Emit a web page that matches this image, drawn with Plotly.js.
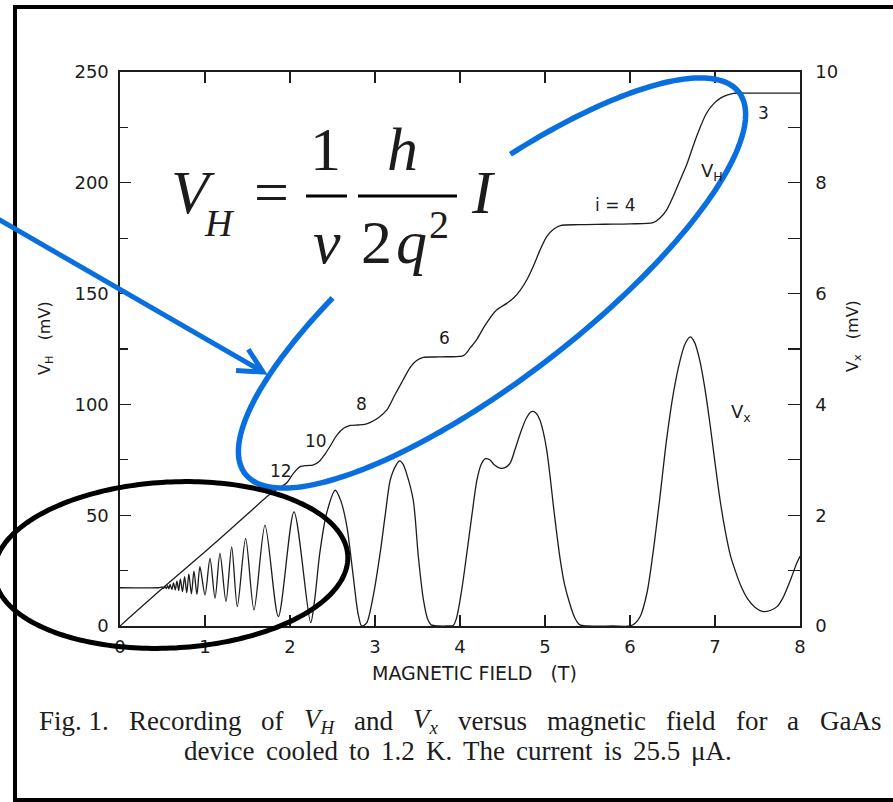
<!DOCTYPE html>
<html>
<head>
<meta charset="utf-8">
<script src="https://cdn.plot.ly/plotly-3.0.1.min.js"></script>
<style>html,body{margin:0;padding:0;background:#fff;}</style>
</head>
<body>
<div id="chart" style="width:893px;height:802px;"></div>
<script>
// Hall voltage V_H (mV) versus magnetic field (T)
const fieldHall = [0, 0.5, 1.0, 1.5, 1.73, 1.80, 1.88, 1.96, 2.04, 2.12, 2.20, 2.27, 2.35, 2.41, 2.47,
  2.55, 2.63, 2.71, 2.80, 2.88, 2.94, 3.04, 3.14, 3.23, 3.33, 3.42, 3.49, 3.57, 3.70, 3.85,
  4.04, 4.12, 4.20, 4.30, 4.43, 4.55, 4.63, 4.71, 4.79, 4.86, 4.94, 5.02, 5.10, 5.18, 5.40,
  5.70, 6.00, 6.27, 6.35, 6.43, 6.51, 6.59, 6.67, 6.74, 6.82, 6.90, 6.98, 7.06, 7.14, 7.22,
  7.40, 7.70, 8.00];
const hallVoltage = [0, 17, 33.5, 50.5, 58.4, 60.5, 62.5, 64.5, 68.9, 71.9, 72.4, 72.6, 74.5, 77.5, 81,
  86, 89.2, 90.5, 90.7, 91, 91.8, 94, 97.5, 104, 111, 117, 119.8, 121.2, 121.4, 121.5,
  122, 125.5, 129.5, 136, 142.6, 145.6, 148, 151.6, 156.5, 162.1, 169.5, 175.7, 179, 180.7, 181.1,
  181.3, 181.5, 182, 184, 187.7, 194, 201.3, 208.5, 216.3, 224.5, 231.4, 235.5, 238.1, 239.6, 240.4,
  240.5, 240.5, 240.5];

// Longitudinal voltage V_x (mV) versus magnetic field (T)
const fieldLong = [0, 0.45, 0.50, 0.515, 0.53, 0.545, 0.56, 0.575, 0.59, 0.61, 0.63, 0.65, 0.67, 0.69,
  0.71, 0.735, 0.76, 0.785, 0.81, 0.84, 0.87, 0.905, 0.94, 1.00, 1.059, 1.118, 1.176, 1.247,
  1.314, 1.38, 1.478, 1.576, 1.706, 1.863, 2.047, 2.243, 2.29, 2.35, 2.43, 2.533, 2.60, 2.67,
  2.74, 2.80, 2.843, 2.90, 2.98, 3.06, 3.12, 3.18, 3.25, 3.29, 3.33, 3.37, 3.45, 3.51, 3.57,
  3.62, 3.66, 3.75, 3.85, 3.92, 3.96, 4.02, 4.08, 4.14, 4.20, 4.25, 4.30, 4.35, 4.41, 4.47,
  4.53, 4.59, 4.65, 4.71, 4.78, 4.84, 4.89, 4.94, 4.98, 5.02, 5.06, 5.10, 5.14, 5.18, 5.23,
  5.29, 5.35, 5.41, 5.50, 5.80, 6.00, 6.06, 6.12, 6.20, 6.27, 6.35, 6.43, 6.51, 6.59, 6.65,
  6.71, 6.76, 6.82, 6.88, 6.94, 7.00, 7.06, 7.12, 7.18, 7.24, 7.30, 7.38, 7.47, 7.57,
  7.65, 7.73, 7.79, 7.84, 7.90, 7.96, 8.00];
const longVoltage = [0.69, 0.69, 0.70, 0.68, 0.715, 0.675, 0.73, 0.67, 0.75, 0.66, 0.78, 0.65, 0.81, 0.64,
  0.85, 0.62, 0.89, 0.60, 0.94, 0.58, 0.99, 0.57, 1.07, 0.56, 1.22, 0.50, 1.31, 0.44,
  1.43, 0.35, 1.58, 0.29, 1.82, 0.17, 2.06, 0.06, 0.47, 1.31, 2.03, 2.45, 2.25, 1.79,
  0.95, 0.23, 0.0, 0.05, 0.55, 1.31, 2.0, 2.64, 2.91, 2.98, 2.92, 2.76, 2.27, 1.25, 0.47,
  0.12, 0.02, 0, 0, 0.01, 0.15, 0.65, 1.31, 2.0, 2.64, 2.92, 3.02, 3.0, 2.9, 2.85,
  2.86, 2.94, 3.2, 3.48, 3.75, 3.87, 3.85, 3.72, 3.5, 3.18, 2.7, 2.15, 1.65, 1.19, 0.75,
  0.41, 0.15, 0.02, 0, 0, 0, 0.05, 0.17, 0.6, 1.31, 2.3, 3.36, 4.2, 4.80, 5.1,
  5.22, 5.12, 4.80, 4.3, 3.66, 2.95, 2.27, 1.72, 1.28, 0.99, 0.74, 0.50, 0.34, 0.26,
  0.28, 0.35, 0.48, 0.65, 0.88, 1.13, 1.26];

// Tick values on the three axes
const fieldTicks = [0, 1, 2, 3, 4, 5, 6, 7, 8];
const hallTicks = [0, 50, 100, 150, 200, 250];
const longTicks = [0, 2, 4, 6, 8, 10];

// Labels written on the plot
const plateauLabels = ['12', '10', '8', '6', 'i = 4', '3'];
const captionLine1 = ['Fig. 1.', 'Recording', 'of', '<i>V<sub>H</sub></i>', 'and', '<i>V<sub>x</sub></i>',
  'versus', 'magnetic', 'field', 'for', 'a', 'GaAs'];
const captionLine2 = ['device', 'cooled', 'to', '1.2', 'K.', 'The', 'current', 'is', '25.5', '\u03bcA.'];

// ---- page geometry (pixels) ----
const W = 893, H = 802, PL = 120, PR = 800, PT = 72, PB = 626;
const fx = x => (x - PL) / (PR - PL);
const fy = y => (PB - y) / (PB - PT);

const INK = '#1c1c1c';
const BLUE = '#0a6fde';
const SANS = 'DejaVu Sans, Liberation Sans, sans-serif';
const SERIF = 'Liberation Serif, Times New Roman, serif';

function label(text, x, y, size, family, extra) {
  return Object.assign({
    xref: 'paper', yref: 'paper', x: fx(x), y: fy(y), text: text, showarrow: false,
    xanchor: 'center', yanchor: 'middle',
    font: {family: family, size: size, color: INK}
  }, extra || {});
}

// rotated ellipse (or arc of one) as an SVG path in paper units
function ellipsePath(cx, cy, a, b, angDeg, t0, t1, n) {
  const th = angDeg * Math.PI / 180;
  const ux = Math.cos(th), uy = -Math.sin(th);
  const vx = Math.sin(th), vy = Math.cos(th);
  let d = '';
  for (let i = 0; i <= n; i++) {
    const t = (t0 + (t1 - t0) * i / n) * Math.PI / 180;
    const x = cx + a * Math.cos(t) * ux + b * Math.sin(t) * vx;
    const y = cy + a * Math.cos(t) * uy + b * Math.sin(t) * vy;
    d += (i === 0 ? 'M' : 'L') + fx(x).toFixed(5) + ',' + fy(y).toFixed(5);
  }
  return d;
}

function arrowPath(x0, y0, x1, y1, wing, spread) {
  const ang = Math.atan2(y0 - y1, x0 - x1);
  const s = spread * Math.PI / 180;
  const p = (x, y) => fx(x).toFixed(5) + ',' + fy(y).toFixed(5);
  const w1 = [x1 + wing * Math.cos(ang + s), y1 + wing * Math.sin(ang + s)];
  const w2 = [x1 + wing * Math.cos(ang - s), y1 + wing * Math.sin(ang - s)];
  return 'M' + p(x0, y0) + 'L' + p(x1, y1) + 'M' + p(w1[0], w1[1]) + 'L' + p(x1, y1) + 'L' + p(w2[0], w2[1]);
}

const traces = [
  {x: fieldLong, y: longVoltage, yaxis: 'y2', type: 'scatter', mode: 'lines',
   line: {color: INK, width: 1.3, shape: 'spline', smoothing: 0.8}, hoverinfo: 'skip'},
  {x: fieldHall, y: hallVoltage, type: 'scatter', mode: 'lines',
   line: {color: INK, width: 1.3, shape: 'spline', smoothing: 0.8}, hoverinfo: 'skip'}
];

const annotations = [];

// curve labels
const plateauPos = [[281, 471], [316, 441], [361, 404], [444, 338], [615, 205], [763, 113]];
plateauLabels.forEach((t, i) => annotations.push(label(t, plateauPos[i][0], plateauPos[i][1], 17, SANS)));
annotations.push(label('V<sub>H</sub>', 712, 172, 18, SANS));
annotations.push(label('V<sub>x</sub>', 741, 413, 18, SANS));

// axis titles
annotations.push(label('MAGNETIC FIELD\u00a0\u00a0\u00a0(T)', 474, 673, 19, SANS));
annotations.push(label('V<sub>H</sub>\u00a0\u00a0\u00a0(mV)', 45, 338, 16, SANS, {textangle: -90}));
annotations.push(label('V<sub>x</sub>\u00a0\u00a0\u00a0(mV)', 853, 336, 16, SANS, {textangle: -90}));

// formula V_H = (1/nu)(h/2q^2) I
const F = 62;
const mid = base => base - 0.338 * F;
annotations.push(label('<i>V</i>', 193, mid(213), F, SERIF));
annotations.push(label('<i>H</i>', 219, 236 - 0.338 * 38, 38, SERIF));
annotations.push(label('=', 271, mid(213), F, SERIF));
annotations.push(label('1', 325, mid(170), F, SERIF));
annotations.push(label('<i>\u03bd</i>', 327, mid(263), F, SERIF));
annotations.push(label('<i>h</i>', 402, mid(170), F, SERIF));
annotations.push(label('2', 376, mid(263), F, SERIF));
annotations.push(label('<i>q</i>', 411, mid(263), F, SERIF));
annotations.push(label('2', 439, 238 - 0.338 * 40, 40, SERIF));
annotations.push(label('<i>I</i>', 483, mid(213), F, SERIF));

// caption, both lines justified between their margins
const CAP = 27;
const ctx = document.createElement('canvas').getContext('2d');
function capWidth(html) {
  const m = html.match(/^<i>(.)<sub>(.)<\/sub><\/i>$/);
  if (m) {
    ctx.font = 'italic ' + CAP + 'px "Liberation Serif"';
    const a = ctx.measureText(m[1]).width;
    ctx.font = 'italic ' + (CAP * 0.7) + 'px "Liberation Serif"';
    return a + ctx.measureText(m[2]).width;
  }
  ctx.font = CAP + 'px "Liberation Serif"';
  return ctx.measureText(html).width;
}
function justify(words, left, right, y) {
  const widths = words.map(capWidth);
  const total = widths.reduce((s, w) => s + w, 0);
  const gap = (right - left - total) / (words.length - 1);
  let x = left;
  words.forEach((w, i) => {
    annotations.push(label(w, x, y, CAP, SERIF, {xanchor: 'left', borderpad: 0}));
    x += widths[i] + gap;
  });
}
justify(captionLine1, 38, 880, 721);
justify(captionLine2, 183, 731, 751);

const shapes = [
  // outer frame
  {type: 'rect', xref: 'paper', yref: 'paper', x0: fx(15), x1: fx(905), y0: fy(800), y1: fy(7),
   line: {color: '#000', width: 4}, layer: 'above'},
  // fraction bars
  {type: 'line', xref: 'paper', yref: 'paper', x0: fx(306), x1: fx(347), y0: fy(196), y1: fy(196),
   line: {color: '#000', width: 3}},
  {type: 'line', xref: 'paper', yref: 'paper', x0: fx(358), x1: fx(457), y0: fy(196), y1: fy(196),
   line: {color: '#000', width: 3}},
  // blue ring round the plateaus, open where the formula sits
  {type: 'path', xref: 'paper', yref: 'paper', path: ellipsePath(492, 283, 312, 95, 37.7, -72.6, 244.3, 240),
   line: {color: BLUE, width: 5.5}, layer: 'above'},
  // blue pointer
  {type: 'path', xref: 'paper', yref: 'paper', path: arrowPath(-2, 219, 263, 372, 27, 27),
   line: {color: BLUE, width: 5}, layer: 'above'},
  // black ring round the low-field region
  {type: 'path', xref: 'paper', yref: 'paper', path: ellipsePath(171, 565, 177, 83, 3, 0, 360, 240),
   line: {color: '#000', width: 5}, layer: 'above'}
];

const axisFont = {family: SANS, size: 18, color: INK};

const layout = {
  width: W, height: H,
  margin: {l: PL, r: W - PR, t: PT, b: H - PB, pad: 0},
  paper_bgcolor: '#ffffff', plot_bgcolor: '#ffffff',
  showlegend: false,
  xaxis: {
    range: [0, 8], tickvals: fieldTicks, ticktext: fieldTicks.map(String),
    ticks: 'inside', ticklen: 11, tickwidth: 1.3, tickcolor: INK,
    showline: true, linecolor: INK, linewidth: 1.6, mirror: 'ticks',
    showgrid: false, zeroline: false, tickfont: axisFont, ticklabelstandoff: 4
  },
  yaxis: {
    range: [0, 250], tickvals: hallTicks, ticktext: hallTicks.map(String),
    ticks: 'inside', ticklen: 11, tickwidth: 1.3, tickcolor: INK,
    minor: {dtick: 25, ticks: 'inside', ticklen: 8, tickwidth: 1.3, tickcolor: INK, showgrid: false},
    showline: true, linecolor: INK, linewidth: 1.6,
    showgrid: false, zeroline: false, tickfont: axisFont, ticklabelstandoff: 6
  },
  yaxis2: {
    range: [0, 10], overlaying: 'y', side: 'right', tickvals: longTicks, ticktext: longTicks.map(String),
    ticks: 'inside', ticklen: 12, tickwidth: 1.3, tickcolor: INK,
    minor: {dtick: 1, ticks: 'inside', ticklen: 12, tickwidth: 1.3, tickcolor: INK, showgrid: false},
    showline: true, linecolor: INK, linewidth: 1.6,
    showgrid: false, zeroline: false, tickfont: axisFont, ticklabelstandoff: 10
  },
  annotations: annotations,
  shapes: shapes
};

Plotly.newPlot('chart', traces, layout, {displayModeBar: false, staticPlot: true});
</script>
</body>
</html>
